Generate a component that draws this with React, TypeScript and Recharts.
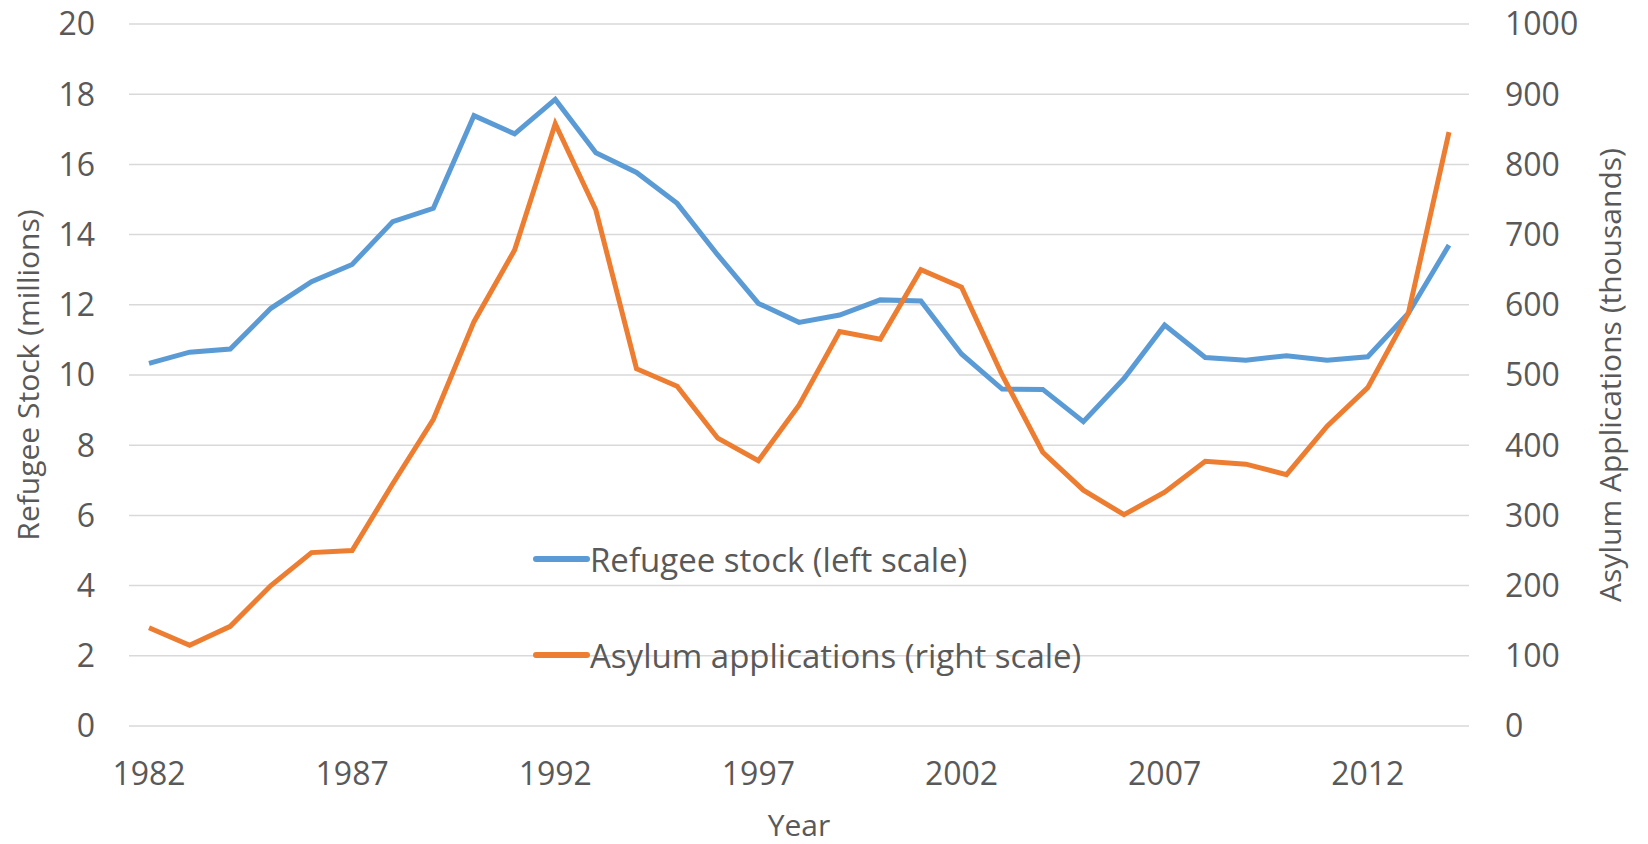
import { CartesianGrid, Legend, Line, LineChart, XAxis, YAxis } from 'recharts'

const years = [
  '1982', '1983', '1984', '1985', '1986', '1987', '1988', '1989', '1990', '1991', '1992',
  '1993', '1994', '1995', '1996', '1997', '1998', '1999', '2000', '2001', '2002', '2003',
  '2004', '2005', '2006', '2007', '2008', '2009', '2010', '2011', '2012', '2013', '2014',
]

// millions, left scale
const refugeeStock = [
  10.33, 10.65, 10.74, 11.9, 12.66, 13.15, 14.37, 14.75, 17.39, 16.87, 17.85,
  16.33, 15.77, 14.89, 13.42, 12.04, 11.5, 11.71, 12.14, 12.11, 10.6, 9.6,
  9.59, 8.67, 9.9, 11.42, 10.5, 10.42, 10.55, 10.42, 10.52, 11.76, 13.7,
]

// thousands, right scale
const asylumApps = [
  140, 115, 142, 200, 247, 250, 345, 437, 576, 678, 858,
  735, 509, 484, 410, 378, 457, 562, 551, 650, 625, 500,
  390, 336, 301, 333, 377, 373, 358, 427, 482, 588, 846,
]

const leftTicks = [0, 2, 4, 6, 8, 10, 12, 14, 16, 18, 20]
const rightTicks = [0, 100, 200, 300, 400, 500, 600, 700, 800, 900, 1000]
const seriesOrder = ['stock', 'asylum']

const data = years.map((year, i) => ({ year, stock: refugeeStock[i], asylum: asylumApps[i] }))

const textColor = '#595959'
const tickStyle = { fontSize: 32, fill: textColor }

function StackedLegend({ payload }: any) {
  if (!payload?.length) return null
  const items = [...payload].sort(
    (a: any, b: any) => seriesOrder.indexOf(a.dataKey) - seriesOrder.indexOf(b.dataKey),
  )
  return (
    <div>
      {items.map((entry: any) => (
        <div key={entry.value} style={{ display: 'flex', alignItems: 'center', height: 96 }}>
          <svg width={58} height={12}>
            <line x1={4} y1={6} x2={55} y2={6} stroke={entry.color} strokeWidth={6} strokeLinecap="round" />
          </svg>
          <span style={{ fontSize: 33, lineHeight: 1, color: textColor, whiteSpace: 'nowrap' }}>{entry.value}</span>
        </div>
      ))}
    </div>
  )
}

export default function App() {
  return (
    <div style={{ position: 'absolute', left: 0, top: 0, fontFamily: '"Open Sans", sans-serif', background: '#fff' }}>
      <LineChart width={1648} height={844} data={data} margin={{ top: 24, right: 0, bottom: 0, left: 0 }}>
        <CartesianGrid yAxisId="left" vertical={false} stroke="#d9d9d9" strokeWidth={1.5} />
        <XAxis
          dataKey="year"
          interval={4}
          height={118}
          padding={{ left: 20, right: 20 }}
          axisLine={false}
          tickLine={false}
          tickSize={0}
          tickMargin={36}
          tick={tickStyle}
          label={{ value: 'Year', position: 'center', dy: 40, fontSize: 30, fill: textColor }}
        />
        <YAxis
          yAxisId="left"
          width={129}
          domain={[0, 20]}
          ticks={leftTicks}
          axisLine={false}
          tickLine={false}
          tickSize={0}
          tickMargin={34}
          tick={tickStyle}
          label={{ value: 'Refugee Stock (millions)', angle: -90, position: 'center', dx: -36, fontSize: 30, fill: textColor }}
        />
        <YAxis
          yAxisId="right"
          orientation="right"
          width={179}
          domain={[0, 1000]}
          ticks={rightTicks}
          axisLine={false}
          tickLine={false}
          tickSize={0}
          tickMargin={36}
          tick={tickStyle}
          label={{ value: 'Asylum Applications (thousands)', angle: -90, position: 'center', dx: 52, fontSize: 30, fill: textColor }}
        />
        <Legend
          layout="vertical"
          align="center"
          verticalAlign="middle"
          content={<StackedLegend />}
          wrapperStyle={{ left: 532, top: 511, width: 'auto' }}
        />
        <Line
          yAxisId="left"
          dataKey="stock"
          name="Refugee stock (left scale)"
          stroke="#5b9bd5"
          strokeWidth={5}
          dot={false}
          activeDot={false}
          isAnimationActive={false}
        />
        <Line
          yAxisId="right"
          dataKey="asylum"
          name="Asylum applications (right scale)"
          stroke="#ed7d31"
          strokeWidth={5}
          dot={false}
          activeDot={false}
          isAnimationActive={false}
        />
      </LineChart>
    </div>
  )
}
